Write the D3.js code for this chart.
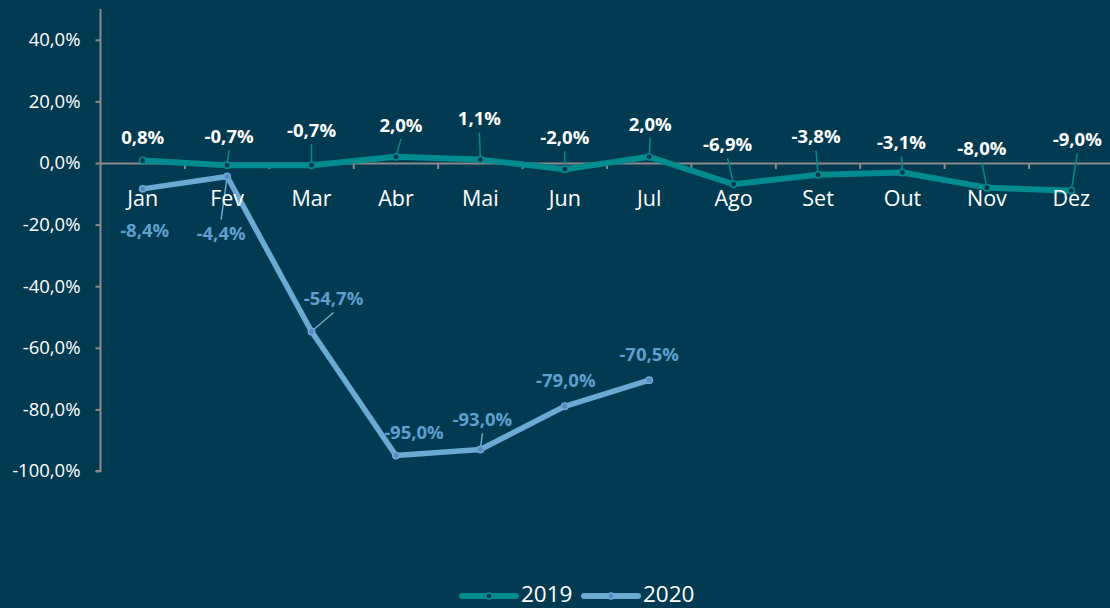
<!DOCTYPE html>
<html><head><meta charset="utf-8">
<script src="https://cdn.jsdelivr.net/npm/d3@7/dist/d3.min.js"></script>
<style>
html,body{margin:0;padding:0;background:#023a51;overflow:hidden;}
svg{display:block;}
</style></head>
<body>
<svg id="chart" width="1110" height="608"></svg>
<script>
// ---- data ----
const months = ["Jan","Fev","Mar","Abr","Mai","Jun","Jul","Ago","Set","Out","Nov","Dez"];
const series2019 = [0.8,-0.7,-0.7,2.0,1.1,-2.0,2.0,-6.9,-3.8,-3.1,-8.0,-9.0];
const series2020 = [-8.4,-4.4,-54.7,-95.0,-93.0,-79.0,-70.5];
const yTicks = [40,20,0,-20,-40,-60,-80,-100];
const seriesNames = ["2019","2020"];

// ---- label placement (offsets from point, px) ----
const lab2019dx = [0,2,0,5,-1,0,1,-6,-2,-1,-5,6];
const lab2019dy = [-23,-29,-35,-32,-41,-32,-33,-40,-38,-30,-39,-51];
const lab2019leader = [false,true,true,true,true,true,true,true,true,true,true,true];
const lab2020dx = [2,-6,22,18,2,1,0];
const lab2020dy = [41,57,-33,-23,-30,-26,-26];
const lab2020leader = [false,true,true,false,true,false,false];

// ---- styles ----
const BG = "#023a51";
const C19 = "#008b8e";
const C20 = "#6aaad3";
const C20LAB = "#5e9fcd";
const AXIS = "#8a8a8a";
const FONT = "'Open Sans', sans-serif";

const svg = d3.select("#chart");
svg.append("rect").attr("width",1110).attr("height",608).attr("fill",BG);

const x = d3.scaleBand().domain(months).range([100.5, 1113.5]).padding(0);
const y = d3.scaleLinear().domain([-100, 50]).range([471, 9]);
const cx = m => x(m) + x.bandwidth()/2;
const pct = v => d3.format(".1f")(v).replace("\u2212","-").replace(".", ",") + "%";

// y axis
const yAxis = d3.axisLeft(y).tickValues(yTicks).tickSize(5).tickPadding(15).tickFormat(pct);
const gy = svg.append("g").attr("transform","translate(100.5,0)").call(yAxis);
gy.select(".domain").attr("stroke",AXIS).attr("stroke-width",2).attr("d","M-5,"+y(-100)+"H0V"+y(50));
gy.selectAll(".tick line").attr("stroke",AXIS).attr("stroke-width",2);
gy.selectAll(".tick text").attr("fill","#ffffff").style("font-family",FONT).style("font-size","18.5px");

// x axis at zero
const xAxis = d3.axisBottom(x).tickSize(0).tickPadding(0).tickFormat("");
const gx = svg.append("g").attr("transform","translate(0,"+y(0)+")").call(xAxis);
gx.select(".domain").attr("stroke",AXIS).attr("stroke-width",2);
// boundary ticks
const bounds = months.map(m => x(m)).slice(1).concat([x(months[months.length-1]) + x.bandwidth()]);
gx.selectAll(".btick").data(bounds).enter().append("line")
  .attr("x1",d=>d).attr("x2",d=>d).attr("y1",0).attr("y2",6)
  .attr("stroke",AXIS).attr("stroke-width",2);

// lines
const line = d3.line().x((d,i)=>cx(months[i])).y(d=>y(d));
function drawSeries(vals, color, width){
  svg.append("path").datum(vals).attr("d",line).attr("fill","none")
    .attr("stroke",color).attr("stroke-width",width).attr("stroke-linejoin","round").attr("stroke-linecap","round");
}
drawSeries(series2019, C19, 6);
drawSeries(series2020, C20, 5.5);

// leaders
function drawLeaders(vals, dx, dy, flags, color){
  vals.forEach((v,i)=>{
    if(!flags[i]) return;
    const px = cx(months[i]), py = y(v);
    const lx = px + dx[i], ly = py + dy[i];
    const sy = ly + (dy[i] < 0 ? 14 : -14);
    svg.append("line").attr("x1",lx).attr("y1",sy).attr("x2",px).attr("y2",py)
      .attr("stroke",color).attr("stroke-width",1.5);
  });
}
drawLeaders(series2019, lab2019dx, lab2019dy, lab2019leader, C19);
drawLeaders(series2020, lab2020dx, lab2020dy, lab2020leader, C20);

// markers
svg.selectAll(".m19").data(series2019).enter().append("circle")
  .attr("cx",(d,i)=>cx(months[i])).attr("cy",d=>y(d)).attr("r",3.2)
  .attr("fill","#0d3550").attr("stroke",C19).attr("stroke-width",1.5);
svg.selectAll(".m20").data(series2020).enter().append("circle")
  .attr("cx",(d,i)=>cx(months[i])).attr("cy",d=>y(d)).attr("r",3.2)
  .attr("fill","#5b86c6").attr("stroke",C20).attr("stroke-width",1.5);

// month labels
svg.selectAll(".mlab").data(months).enter().append("text")
  .attr("x",d=>cx(d)).attr("y",206).attr("text-anchor","middle")
  .attr("fill","#ffffff").style("font-family",FONT).style("font-size","21.5px").text(d=>d);

// data labels
function drawLabels(vals, dx, dy, color){
  svg.selectAll(null).data(vals).enter().append("text")
    .attr("x",(d,i)=>cx(months[i]) + dx[i]).attr("y",(d,i)=>y(d) + dy[i])
    .attr("dy","0.36em").attr("text-anchor","middle")
    .attr("fill",color).style("font-family",FONT).style("font-weight","bold").style("font-size","18.5px")
    .text(d=>pct(d));
}
drawLabels(series2019, lab2019dx, lab2019dy, "#ffffff");
drawLabels(series2020, lab2020dx, lab2020dy, C20LAB);

// legend
const legend = svg.append("g").attr("transform","translate(0,596)");
const legendItems = [
  {name: seriesNames[0], color: C19, fill:"#0d3550", x0: 462},
  {name: seriesNames[1], color: C20, fill:"#5b86c6", x0: 584}
];
legendItems.forEach(it=>{
  legend.append("line").attr("x1",it.x0).attr("x2",it.x0+54).attr("y1",0).attr("y2",0)
    .attr("stroke",it.color).attr("stroke-width",6).attr("stroke-linecap","round");
  legend.append("circle").attr("cx",it.x0+27).attr("cy",0).attr("r",3)
    .attr("fill",it.fill).attr("stroke",it.color).attr("stroke-width",1.5);
  legend.append("text").attr("x",it.x0+59).attr("y",6).attr("fill","#ffffff")
    .style("font-family",FONT).style("font-size","22.5px").text(it.name);
});
</script>
</body></html>
